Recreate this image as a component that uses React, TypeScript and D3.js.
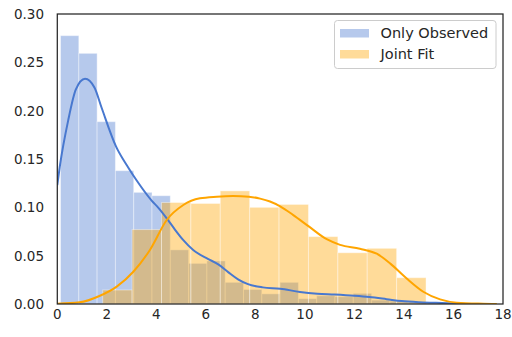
import React from "react";
import * as d3 from "d3";

// Histogram of the "Only Observed" sample (density per bin)
const observedBinStart = 0.13;
const observedBinWidth = 0.739;
const observedDensity = [
  0.2776, 0.2593, 0.1886, 0.1379, 0.1155, 0.112, 0.056, 0.042, 0.0445, 0.0224,
  0.015, 0.0105, 0.0224, 0.0055, 0.0085, 0.0075, 0.011, 0.004, 0.003, 0.002,
];

// Histogram of the "Joint Fit" sample (density per bin)
const jointBinStart = 1.834;
const jointBinWidth = 1.187;
const jointDensity = [
  0.0145, 0.077, 0.105, 0.104, 0.117, 0.1, 0.103, 0.0697, 0.053, 0.0576, 0.0272,
];

// Kernel density estimates, sampled along x
const observedKdeX = [
  0, 0.1, 0.44, 0.75, 1.12, 1.5, 1.79, 2.37, 2.87, 3.2, 3.81, 4.1, 4.42, 4.75,
  5.09, 5.5, 6.1, 6.5, 6.9, 7.3, 7.7, 8.3, 9.0, 9.8, 10.5, 11.2, 12.0, 12.6,
  13.3, 13.9, 14.6, 15.3, 16.0, 16.5,
];
const observedKdeY = [
  0.123, 0.142, 0.19, 0.222, 0.233, 0.224, 0.203, 0.163, 0.141, 0.128, 0.107,
  0.099, 0.0886, 0.077, 0.066, 0.0555, 0.0465, 0.041, 0.033, 0.0255, 0.0205,
  0.0172, 0.0158, 0.0125, 0.0107, 0.0098, 0.0085, 0.0072, 0.005, 0.003, 0.0018,
  0.0012, 0.0005, 0,
];
const jointKdeX = [
  0, 0.9, 1.7, 2.4, 3.07, 3.74, 4.42, 5.09, 5.76, 6.44, 7.1, 7.74, 8.19, 8.59,
  9.0, 9.53, 10.17, 10.88, 11.42, 12.22, 12.9, 13.44, 14.1, 14.78, 15.46, 16.13,
  17.2, 17.75,
];
const jointKdeY = [
  0.0003, 0.0017, 0.0083, 0.018, 0.0334, 0.0559, 0.0869, 0.1024, 0.1093, 0.111,
  0.1117, 0.111, 0.109, 0.106, 0.101, 0.092, 0.08, 0.067, 0.0612, 0.0572, 0.052,
  0.042, 0.0266, 0.0127, 0.0048, 0.0014, 0.0003, 0,
];

const xTicks = [0, 2, 4, 6, 8, 10, 12, 14, 16, 18];
const yTicks = [0, 0.05, 0.1, 0.15, 0.2, 0.25, 0.3];
const seriesNames = ["Only Observed", "Joint Fit"];

const W = 512;
const H = 337;
const plot = { left: 57.3, right: 503, top: 14, bottom: 304 };
const blue = "#4878cf";
const orange = "#ffa500";
const textColor = "#262626";
const font = "DejaVu Sans, sans-serif";

export default function App() {
  const x = d3.scaleLinear().domain([0, 18]).range([plot.left, plot.right]);
  const y = d3.scaleLinear().domain([0, 0.3]).range([plot.bottom, plot.top]);
  const line = d3
    .line<[number, number]>()
    .x((d) => x(d[0]))
    .y((d) => y(d[1]))
    .curve(d3.curveMonotoneX);

  const bars = (start: number, width: number, dens: number[], color: string, key: string) =>
    dens.map((v, i) => {
      const x0 = x(start + i * width);
      const x1 = x(start + (i + 1) * width);
      return (
        <rect
          key={key + i}
          x={x0}
          y={y(v)}
          width={x1 - x0}
          height={y(0) - y(v)}
          fill={color}
          fillOpacity={0.4}
          stroke="#ffffff"
          strokeOpacity={0.4}
          strokeWidth={1}
        />
      );
    });

  const obsPath = line(observedKdeX.map((v, i) => [v, observedKdeY[i]]));
  const jointPath = line(jointKdeX.map((v, i) => [v, jointKdeY[i]]));

  const legendX = 334.5;
  const legendY = 20.5;

  return (
    <svg
      width={W}
      height={H}
      style={{ position: "absolute", left: 0, top: 0, background: "#fff" }}
      fontFamily={font}
    >
      <defs>
        <clipPath id="plotClip">
          <rect x={plot.left} y={plot.top} width={plot.right - plot.left} height={plot.bottom - plot.top} />
        </clipPath>
      </defs>
      <g clipPath="url(#plotClip)">
        {bars(observedBinStart, observedBinWidth, observedDensity, blue, "o")}
        {bars(jointBinStart, jointBinWidth, jointDensity, orange, "j")}
        <path d={obsPath ?? ""} fill="none" stroke={blue} strokeWidth={2} />
        <path d={jointPath ?? ""} fill="none" stroke={orange} strokeWidth={2} />
      </g>
      <rect
        x={plot.left}
        y={plot.top}
        width={plot.right - plot.left}
        height={plot.bottom - plot.top}
        fill="none"
        stroke={textColor}
        strokeWidth={1.25}
      />
      {xTicks.map((t) => (
        <text key={"x" + t} x={x(t)} y={319} textAnchor="middle" fontSize={13.5} fill={textColor}>
          {t}
        </text>
      ))}
      {yTicks.map((t) => (
        <text
          key={"y" + t}
          x={44}
          y={y(t)}
          dy="0.36em"
          textAnchor="end"
          fontSize={13.5}
          fill={textColor}
        >
          {d3.format(".2f")(t)}
        </text>
      ))}
      <g>
        <rect
          x={legendX}
          y={legendY}
          width={161.5}
          height={48}
          rx={3}
          fill="#ffffff"
          fillOpacity={0.8}
          stroke="#cccccc"
          strokeWidth={1}
        />
        {seriesNames.map((name, i) => (
          <g key={name}>
            <rect
              x={340}
              y={29 + i * 21}
              width={29}
              height={8.5}
              fill={i === 0 ? blue : orange}
              fillOpacity={0.4}
            />
            <text x={380.5} y={38 + i * 21} fontSize={14.5} fill={textColor}>
              {name}
            </text>
          </g>
        ))}
      </g>
    </svg>
  );
}
